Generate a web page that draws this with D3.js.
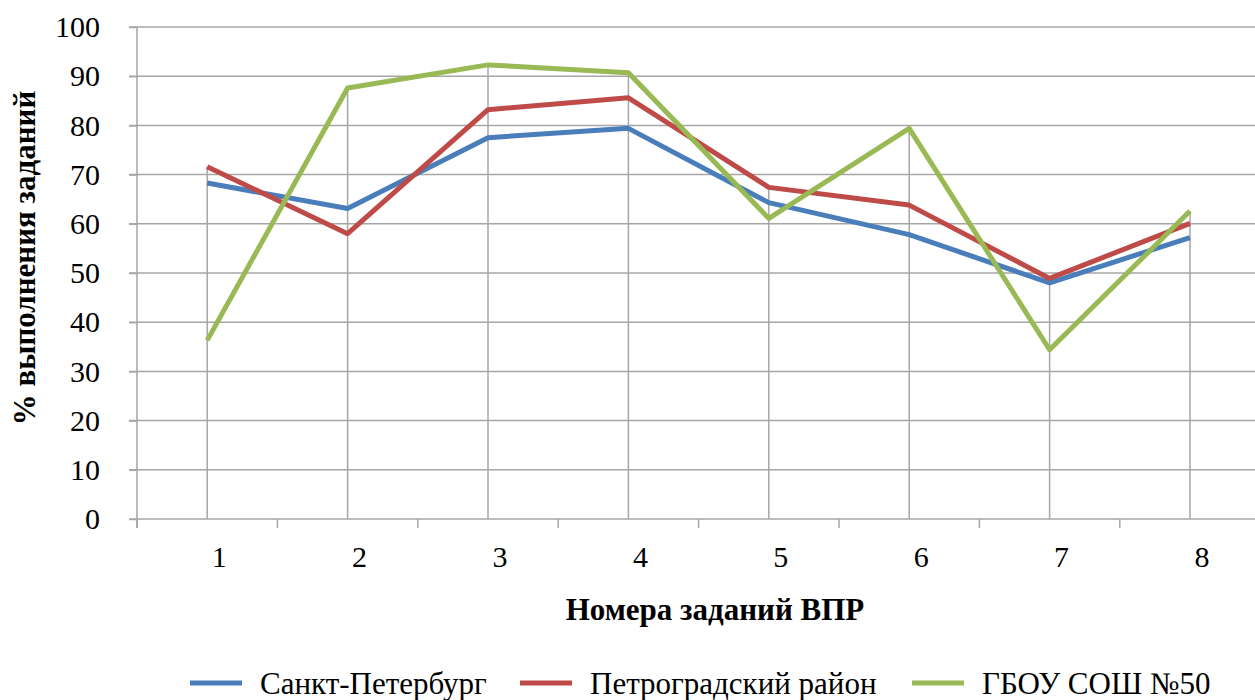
<!DOCTYPE html>
<html>
<head>
<meta charset="utf-8">
<script src="https://cdn.jsdelivr.net/npm/d3@7"></script>
<style>
  body { margin: 0; background: #fff; }
</style>
</head>
<body>
<div id="chart"></div>
<script>
const categories = ["1", "2", "3", "4", "5", "6", "7", "8"];
const yTicks = [0, 10, 20, 30, 40, 50, 60, 70, 80, 90, 100];
const seriesNames = ["Санкт-Петербург", "Петроградский район", "ГБОУ СОШ №50"];
const spbValues = [68.3, 63.1, 77.5, 79.4, 64.3, 57.8, 48.0, 57.2];
const districtValues = [71.6, 58.0, 83.2, 85.6, 67.4, 63.8, 48.9, 60.1];
const schoolValues = [36.3, 87.6, 92.3, 90.7, 61.1, 79.4, 34.4, 62.6];
const colors = ["#4a7ebb", "#be4b48", "#98b954"];

const series = [spbValues, districtValues, schoolValues].map((v, i) => ({
  name: seriesNames[i], color: colors[i], values: v
}));

const FONT = "'Liberation Serif', 'Times New Roman', serif";
const W = 1255, H = 700;
const plotLeft = 137, plotTop = 27, plotBottom = 519;

const svg = d3.select("#chart").append("svg")
  .attr("width", W).attr("height", H);

const x = d3.scaleBand().domain(categories).range([plotLeft, plotLeft + 8 * 140.4]).padding(0);
const y = d3.scaleLinear().domain([0, 100]).range([plotBottom, plotTop]);
const cx = c => x(c) + x.bandwidth() / 2;

// horizontal gridlines
svg.append("g").selectAll("line")
  .data(yTicks.filter(t => t > 0))
  .enter().append("line")
  .attr("x1", plotLeft - 8).attr("x2", W)
  .attr("y1", d => y(d)).attr("y2", d => y(d))
  .attr("stroke", "#a6a6a6").attr("stroke-width", 1.5);

// drop lines from the highest point down to the axis
svg.append("g").selectAll("line")
  .data(categories)
  .enter().append("line")
  .attr("x1", cx).attr("x2", cx)
  .attr("y1", (c, i) => y(d3.max(series, s => s.values[i])))
  .attr("y2", y(0))
  .attr("stroke", "#a6a6a6").attr("stroke-width", 1.5);

// y axis
const yAxis = svg.append("g")
  .attr("transform", `translate(${plotLeft},0)`)
  .call(d3.axisLeft(y).tickValues(yTicks).tickSize(8).tickPadding(29));
yAxis.attr("font-family", FONT).attr("font-size", 30);
yAxis.select(".domain").attr("stroke", "#a6a6a6").attr("stroke-width", 1.5)
  .attr("d", `M0,${plotTop}V${plotBottom + 9}`);
yAxis.selectAll(".tick line").attr("stroke", "#a6a6a6").attr("stroke-width", 1.5);
yAxis.selectAll(".tick text").attr("fill", "#000");

// x axis line and tick marks between categories
svg.append("line")
  .attr("x1", plotLeft - 8).attr("x2", W)
  .attr("y1", y(0)).attr("y2", y(0))
  .attr("stroke", "#a6a6a6").attr("stroke-width", 1.5);
svg.append("g").selectAll("line")
  .data(categories)
  .enter().append("line")
  .attr("x1", c => x(c)).attr("x2", c => x(c))
  .attr("y1", y(0)).attr("y2", y(0) + 9)
  .attr("stroke", "#a6a6a6").attr("stroke-width", 1.5);

svg.append("g").selectAll("text")
  .data(categories)
  .enter().append("text")
  .attr("x", c => cx(c) + 12)
  .attr("y", 567)
  .attr("text-anchor", "middle")
  .attr("font-family", FONT).attr("font-size", 30)
  .text(d => d);

// lines
const line = d3.line()
  .x((d, i) => cx(categories[i]))
  .y(d => y(d));

svg.append("g").selectAll("path")
  .data(series)
  .enter().append("path")
  .attr("d", d => line(d.values))
  .attr("fill", "none")
  .attr("stroke", d => d.color)
  .attr("stroke-width", 5)
  .attr("stroke-linejoin", "round");

// axis titles
svg.append("text")
  .attr("x", 715).attr("y", 620)
  .attr("text-anchor", "middle")
  .attr("font-family", FONT).attr("font-size", 31).attr("font-weight", "bold")
  .text("Номера заданий ВПР");

svg.append("text")
  .attr("transform", "translate(35,258) rotate(-90)")
  .attr("text-anchor", "middle")
  .attr("font-family", FONT).attr("font-size", 31).attr("font-weight", "bold")
  .text("% выполнения заданий");

// legend
const legendX = [190, 520, 912];
const legend = svg.append("g").selectAll("g")
  .data(series)
  .enter().append("g")
  .attr("transform", (d, i) => `translate(${legendX[i]},683)`);
legend.append("line")
  .attr("x1", 0).attr("x2", 52)
  .attr("stroke", d => d.color).attr("stroke-width", 5);
legend.append("text")
  .attr("x", 70).attr("y", 11)
  .attr("font-family", FONT).attr("font-size", 31)
  .text(d => d.name);
</script>
</body>
</html>
